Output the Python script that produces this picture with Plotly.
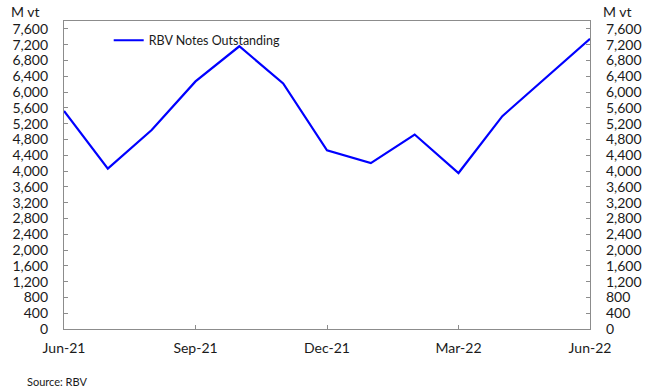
import plotly.graph_objects as go

# Monthly RBV notes outstanding (millions of vatu)
months = ["Jun-21", "Jul-21", "Aug-21", "Sep-21", "Oct-21", "Nov-21", "Dec-21",
          "Jan-22", "Feb-22", "Mar-22", "Apr-22", "May-22", "Jun-22"]
notes_outstanding = [5520, 4060, 5040, 6270, 7160, 6220, 4525,
                     4200, 4925, 3950, 5390, 6360, 7350]

x_tick_labels = ["Jun-21", "Sep-21", "Dec-21", "Mar-22", "Jun-22"]
y_ticks = list(range(0, 7601, 400))
y_tick_text = [f"{v:,}" for v in y_ticks]

FONT = "Lato, 'Open Sans', sans-serif"
AXIS_GREY = "#8c8c8c"
TEXT = "#1a1a1a"

fig = go.Figure()
fig.add_trace(go.Scatter(
    x=months, y=notes_outstanding, mode="lines",
    name="RBV Notes Outstanding",
    line=dict(color="#0000ff", width=2.2),
))

yaxis_common = dict(
    range=[0, 7800], tickvals=y_ticks, ticktext=y_tick_text,
    showgrid=False, zeroline=False, showline=True, linecolor=AXIS_GREY,
    linewidth=1.3, ticks="inside", ticklen=4, tickcolor=AXIS_GREY,
    tickfont=dict(family=FONT, size=14, color=TEXT),
    ticklabelstandoff=12,
)

fig.update_layout(
    width=654, height=392,
    margin=dict(l=63, r=56, t=21, b=63),
    paper_bgcolor="white", plot_bgcolor="white",
    showlegend=True,
    legend=dict(x=0.085, y=0.985, xanchor="left", yanchor="top",
                bgcolor="rgba(0,0,0,0)", font=dict(family=FONT, size=12.5, color=TEXT),
                itemwidth=30, tracegroupgap=0),
    xaxis=dict(
        type="category", range=[0, 12], tickvals=x_tick_labels,
        showgrid=False, zeroline=False, showline=True, mirror=True,
        linecolor=AXIS_GREY, linewidth=1.3, ticks="inside", ticklen=4,
        tickcolor=AXIS_GREY, tickfont=dict(family=FONT, size=14, color=TEXT),
        ticklabelstandoff=6,
    ),
    yaxis=dict(**yaxis_common, side="left"),
    yaxis2=dict(**yaxis_common, side="right", overlaying="y"),
)

# empty trace so the right-hand axis is drawn
fig.add_trace(go.Scatter(x=[months[0]], y=[None], yaxis="y2", showlegend=False,
                         hoverinfo="skip"))

fig.add_annotation(text="M vt", xref="paper", yref="paper", x=-0.105, y=1.0,
                   xanchor="left", yanchor="bottom", showarrow=False,
                   font=dict(family=FONT, size=14, color=TEXT), yshift=-1)
fig.add_annotation(text="M vt", xref="paper", yref="paper", x=1.02, y=1.0,
                   xanchor="left", yanchor="bottom", showarrow=False,
                   font=dict(family=FONT, size=14, color=TEXT), yshift=-1)
fig.add_annotation(text="Source: RBV", xref="paper", yref="paper", x=-0.075, y=-0.169,
                   xanchor="left", yanchor="middle", showarrow=False,
                   font=dict(family=FONT, size=11, color=TEXT))

fig.write_html("out.html")
